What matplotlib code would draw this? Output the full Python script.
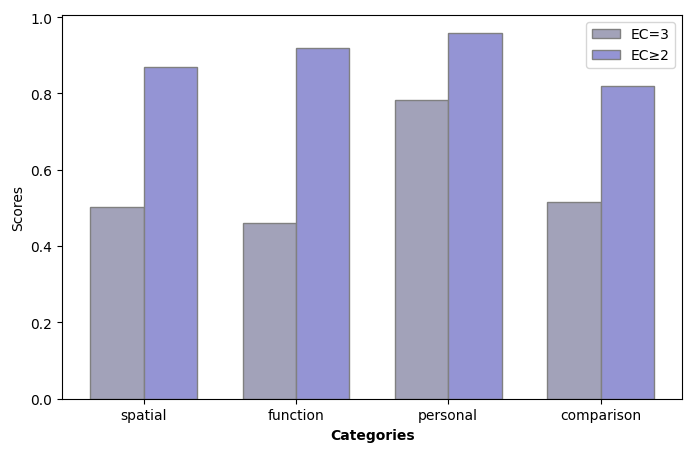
import numpy as np
import matplotlib.pyplot as plt

categories = ["spatial", "function", "personal", "comparison"]
ec3_scores = [0.501, 0.459, 0.783, 0.516]
ec2_scores = [0.869, 0.919, 0.958, 0.820]

x = np.arange(len(categories))
width = 0.35

fig, ax = plt.subplots(figsize=(6.91, 4.52), dpi=100)
ax.bar(x - width / 2, ec3_scores, width, label="EC=3", color="#a2a2b9", edgecolor="gray")
ax.bar(x + width / 2, ec2_scores, width, label="EC\u22652", color="#9494d4", edgecolor="gray")

ax.set_xticks(x)
ax.set_xticklabels(categories)
ax.set_xlabel("Categories", fontweight="bold")
ax.set_ylabel("Scores")
ax.legend(loc="upper right")

fig.subplots_adjust(left=0.09, right=0.987, top=0.965, bottom=0.116)
fig.savefig("out.png", dpi=100)
